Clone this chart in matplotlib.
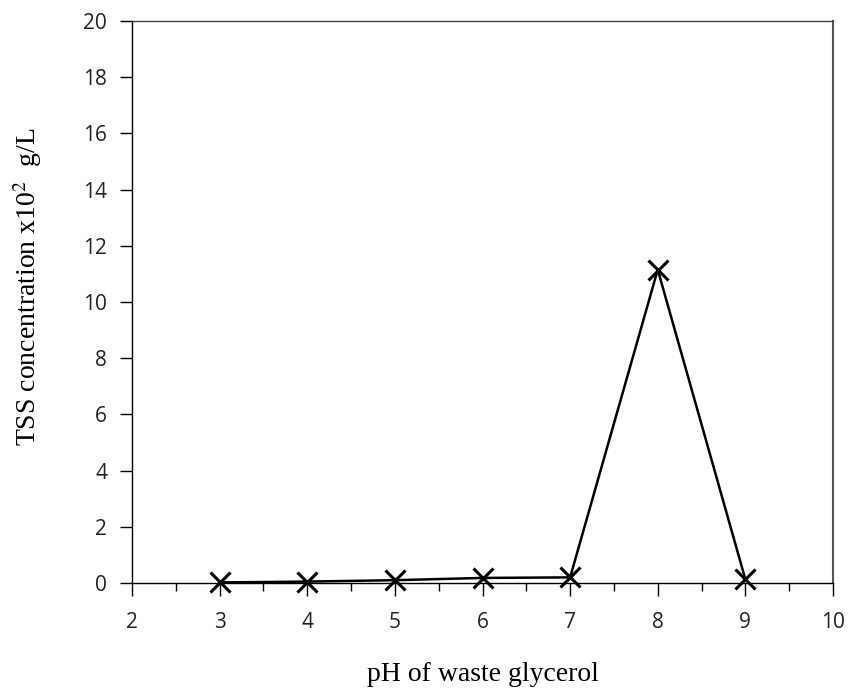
import matplotlib.pyplot as plt
from matplotlib.ticker import MultipleLocator

plt.rcParams['mathtext.fontset'] = 'stix'

ph = [3, 4, 5, 6, 7, 8, 9]
tss = [0.02, 0.05, 0.1, 0.18, 0.2, 11.15, 0.13]

fig = plt.figure(figsize=(8.51, 6.93), dpi=100)
ax = fig.add_axes([132 / 851, 1 - 583 / 693, (833 - 132) / 851, (583 - 21) / 693])

ax.plot(ph, tss, color='black', lw=1.8, marker='x', markersize=14, mew=2.2, clip_on=False, zorder=3)

ax.set_xlim(2, 10)
ax.set_ylim(0, 20)
ax.xaxis.set_major_locator(MultipleLocator(1))
ax.xaxis.set_minor_locator(MultipleLocator(0.5))
ax.yaxis.set_major_locator(MultipleLocator(2))

for lab in ax.get_xticklabels() + ax.get_yticklabels():
    lab.set_family('Open Sans')
    lab.set_fontsize(15)
    lab.set_color('#222222')

ax.tick_params(axis='both', which='major', direction='out', length=9, width=1, color='black')
ax.tick_params(axis='y', which='major', pad=9)
ax.tick_params(axis='x', which='major', pad=12)
ax.tick_params(axis='x', which='minor', direction='out', length=6, width=1, color='black')

for s in ax.spines.values():
    s.set_linewidth(1)
ax.spines['top'].set_color('#444444')
ax.spines['right'].set_color('#555555')
ax.spines['right'].set_linewidth(1.5)

ax.set_xlabel('pH of waste glycerol', family='Liberation Serif', fontsize=20)
ax.set_ylabel('TSS concentration x10$^2$  g/L', family='Liberation Serif', fontsize=20)
ax.xaxis.set_label_coords(0.5, -0.14)
ax.yaxis.set_label_coords(-0.125, 0.527)

fig.savefig('out.png', dpi=100)
